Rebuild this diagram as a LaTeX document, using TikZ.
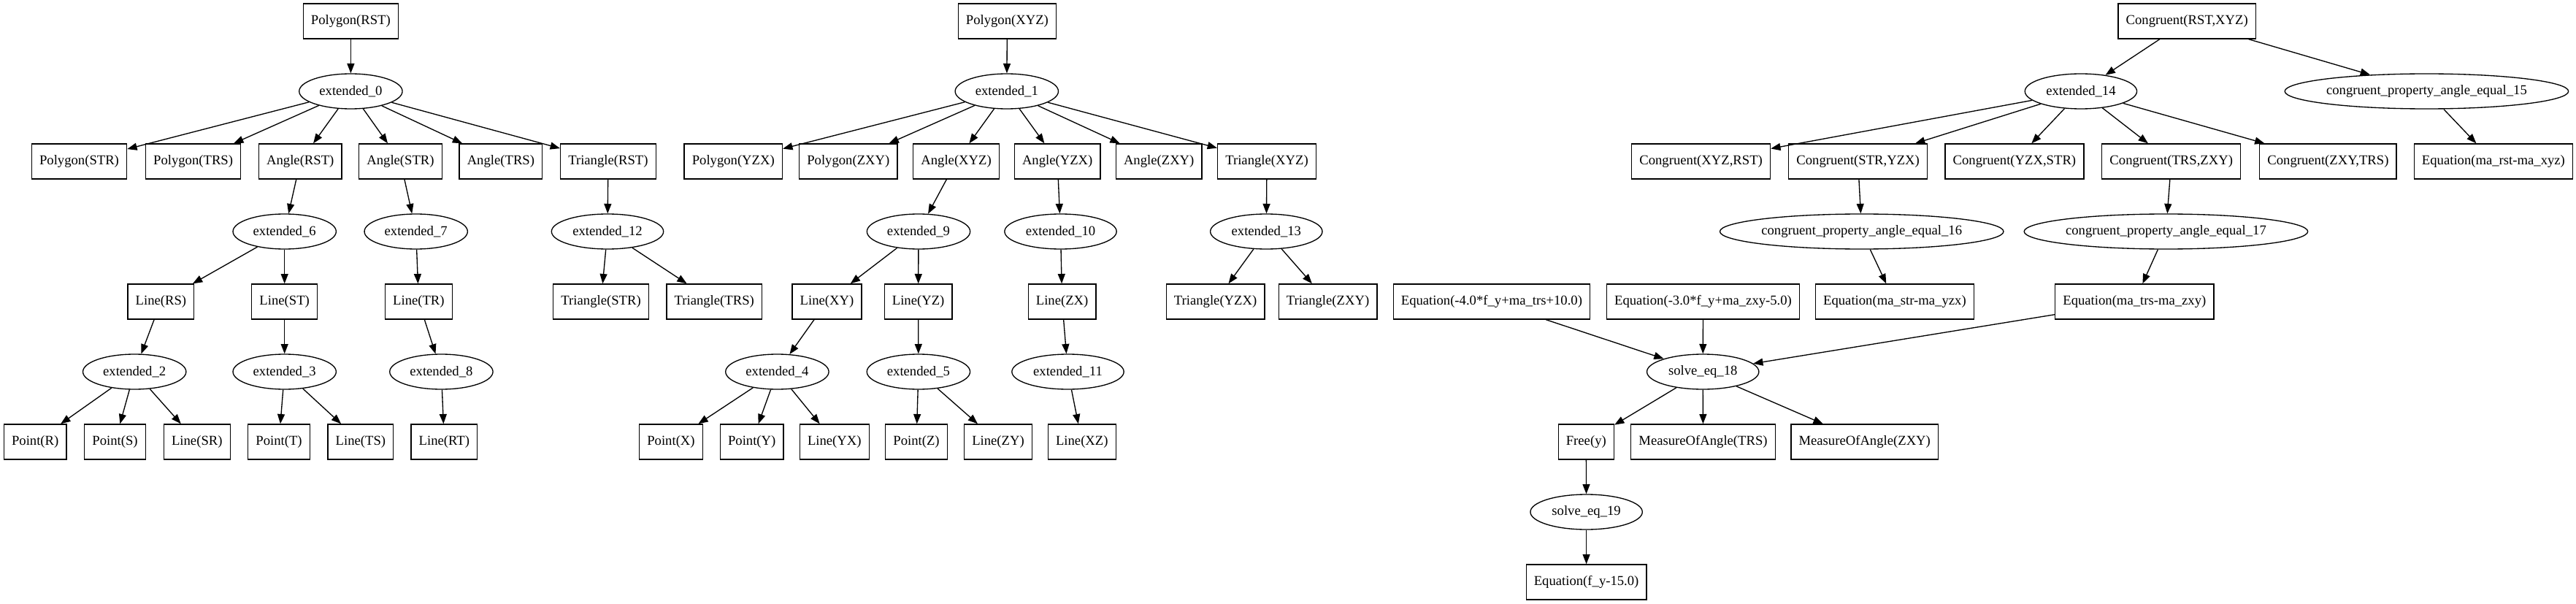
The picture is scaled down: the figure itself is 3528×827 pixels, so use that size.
\documentclass[tikz,border=0pt]{standalone}
\usepackage{fontspec}
\setmainfont{Liberation Serif}
\usetikzlibrary{shapes.geometric,arrows.meta}
\begin{document}
\begin{tikzpicture}[x=0.75pt,y=-0.75pt,
  every node/.style={font=\fontsize{14pt}{17pt}\selectfont, line width=1pt},
  box/.style={draw, rectangle, minimum height=36pt, minimum width=54pt, inner xsep=8pt, inner ysep=2pt},
  ell/.style={draw, ellipse, minimum height=36pt, minimum width=106pt, inner xsep=0pt, inner ysep=0pt},
  ellm/.style={ell, minimum width=115pt},
  elll/.style={ell, minimum width=288pt},
  edge/.style={-{Triangle[length=10pt,width=7.5pt]}, line width=1pt}]
\useasboundingbox (0,0) rectangle (3528,827);
% ---------- tree 1 ----------
\node[box] (pRST) at (480.4,29) {Polygon(RST)};
\node[ell] (e0) at (480.4,125) {extended\_0};
\node[box] (pSTR) at (108.5,221) {Polygon(STR)};
\node[box] (pTRS) at (264.6,221) {Polygon(TRS)};
\node[box] (aRST) at (411.3,221) {Angle(RST)};
\node[box] (aSTR) at (548.5,221) {Angle(STR)};
\node[box] (aTRS) at (685.9,221) {Angle(TRS)};
\node[box] (tRST) at (832.9,221) {Triangle(RST)};
\node[ell] (e6) at (389.7,317) {extended\_6};
\node[ell] (e7) at (569.7,317) {extended\_7};
\node[ellm] (e12) at (832,317) {extended\_12};
\node[box] (lRS) at (220.4,413) {Line(RS)};
\node[box] (lST) at (389.7,413) {Line(ST)};
\node[box] (lTR) at (573.4,413) {Line(TR)};
\node[box] (tSTR) at (823.1,413) {Triangle(STR)};
\node[box] (tTRS) at (978.2,413) {Triangle(TRS)};
\node[ell] (e2) at (184.2,509) {extended\_2};
\node[ell] (e3) at (389.7,509) {extended\_3};
\node[ell] (e8) at (604.4,509) {extended\_8};
\node[box] (ptR) at (48.2,605) {Point(R)};
\node[box] (ptS) at (157.5,605) {Point(S)};
\node[box] (lSR) at (269.8,605) {Line(SR)};
\node[box] (ptT) at (382,605) {Point(T)};
\node[box] (lTS) at (493.9,605) {Line(TS)};
\node[box] (lRT) at (608.4,605) {Line(RT)};
% ---------- tree 2 ----------
\node[box] (pXYZ) at (1379.4,29) {Polygon(XYZ)};
\node[ell] (e1) at (1378.8,125) {extended\_1};
\node[box] (pYZX) at (1004.3,221) {Polygon(YZX)};
\node[box] (pZXY) at (1161.8,221) {Polygon(ZXY)};
\node[box] (aXYZ) at (1309.6,221) {Angle(XYZ)};
\node[box] (aYZX) at (1448.2,221) {Angle(YZX)};
\node[box] (aZXY) at (1587.2,221) {Angle(ZXY)};
\node[box] (tXYZ) at (1735,221) {Triangle(XYZ)};
\node[ell] (e9) at (1258,317) {extended\_9};
\node[ellm] (e10) at (1452.5,317) {extended\_10};
\node[ellm] (e13) at (1734.3,317) {extended\_13};
\node[box] (lXY) at (1132.5,413) {Line(XY)};
\node[box] (lYZ) at (1257.6,413) {Line(YZ)};
\node[box] (lZX) at (1454.6,413) {Line(ZX)};
\node[box] (tYZX) at (1664.6,413) {Triangle(YZX)};
\node[box] (tZXY) at (1818.5,413) {Triangle(ZXY)};
\node[ell] (e4) at (1064.4,509) {extended\_4};
\node[ell] (e5) at (1257.9,509) {extended\_5};
\node[ellm] (e11) at (1462.5,509) {extended\_11};
\node[box] (ptX) at (919,605) {Point(X)};
\node[box] (ptY) at (1029.7,605) {Point(Y)};
\node[box] (lYX) at (1142.8,605) {Line(YX)};
\node[box] (ptZ) at (1255,605) {Point(Z)};
\node[box] (lZY) at (1367,605) {Line(ZY)};
\node[box] (lXZ) at (1481.8,605) {Line(XZ)};
% ---------- tree 3 ----------
\node[box] (cRX) at (2995.2,29) {Congruent(RST,XYZ)};
\node[ellm] (e14) at (2849.9,125) {extended\_14};
\node[elll] (cp15) at (3323.4,125) {congruent\_property\_angle\_equal\_15};
\node[box] (cXR) at (2329.6,221) {Congruent(XYZ,RST)};
\node[box] (cSY) at (2544.6,221) {Congruent(STR,YZX)};
\node[box] (cYS) at (2758.9,221) {Congruent(YZX,STR)};
\node[box] (cTZ) at (2973.7,221) {Congruent(TRS,ZXY)};
\node[box] (cZT) at (3188.4,221) {Congruent(ZXY,TRS)};
\node[box] (eqRX) at (3414.9,221) {Equation(ma\_rst-ma\_xyz)};
\node[elll] (cp16) at (2549.7,317) {congruent\_property\_angle\_equal\_16};
\node[elll] (cp17) at (2966.4,317) {congruent\_property\_angle\_equal\_17};
\node[box] (eqA) at (2042.9,413) {Equation(-4.0*f\_y+ma\_trs+10.0)};
\node[box] (eqB) at (2332.5,413) {Equation(-3.0*f\_y+ma\_zxy-5.0)};
\node[box] (eqC) at (2594.9,413) {Equation(ma\_str-ma\_yzx)};
\node[box] (eqD) at (2923.3,413) {Equation(ma\_trs-ma\_zxy)};
\node[ellm] (s18) at (2332.2,509) {solve\_eq\_18};
\node[box] (free) at (2172.3,605) {Free(y)};
\node[box] (mT) at (2332.5,605) {MeasureOfAngle(TRS)};
\node[box] (mZ) at (2553.7,605) {MeasureOfAngle(ZXY)};
\node[ellm] (s19) at (2172.6,701) {solve\_eq\_19};
\node[box] (eqF) at (2172.6,797) {Equation(f\_y-15.0)};
% ---------- edges ----------
\foreach \a/\b in {pRST/e0, e0/pSTR, e0/pTRS, e0/aRST, e0/aSTR, e0/aTRS, e0/tRST,
  aRST/e6, aSTR/e7, tRST/e12, e12/tSTR, e12/tTRS, e6/lRS, e6/lST, e7/lTR,
  lRS/e2, lST/e3, lTR/e8, e2/ptR, e2/ptS, e2/lSR, e3/ptT, e3/lTS, e8/lRT,
  pXYZ/e1, e1/pYZX, e1/pZXY, e1/aXYZ, e1/aYZX, e1/aZXY, e1/tXYZ,
  aXYZ/e9, aYZX/e10, tXYZ/e13, e9/lXY, e9/lYZ, e10/lZX, e13/tYZX, e13/tZXY,
  lXY/e4, lYZ/e5, lZX/e11, e4/ptX, e4/ptY, e4/lYX, e5/ptZ, e5/lZY, e11/lXZ,
  cRX/e14, cRX/cp15, e14/cXR, e14/cSY, e14/cYS, e14/cTZ, e14/cZT, cp15/eqRX,
  cSY/cp16, cTZ/cp17, cp16/eqC, cp17/eqD, eqA/s18, eqB/s18, eqD/s18,
  s18/free, s18/mT, s18/mZ, free/s19, s19/eqF}
  \draw[edge] (\a) -- (\b);
\end{tikzpicture}
\end{document}
